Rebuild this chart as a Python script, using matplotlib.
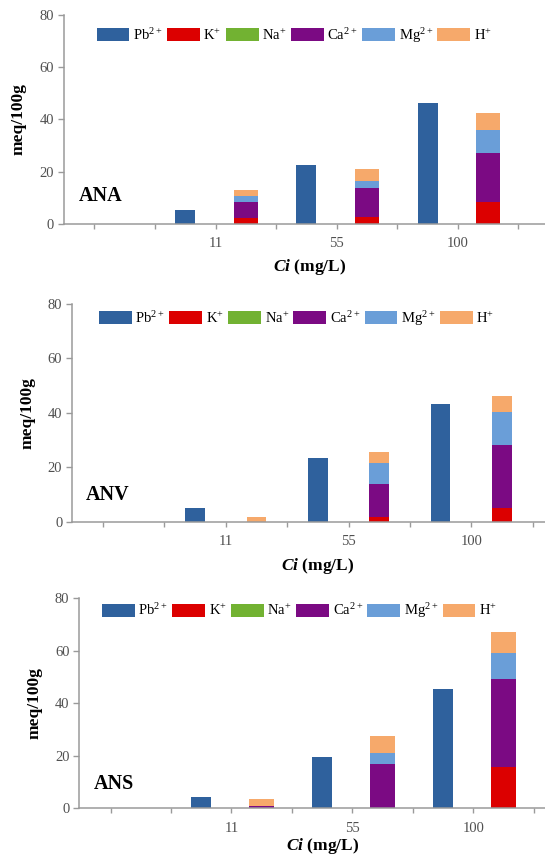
import matplotlib
matplotlib.use("Agg")
import matplotlib.pyplot as plt
import numpy as np

plt.rcParams['font.family'] = ['Liberation Serif', 'DejaVu Serif']
plt.rcParams['mathtext.fontset'] = 'custom'
plt.rcParams['mathtext.rm'] = 'Liberation Serif'
plt.rcParams['mathtext.it'] = 'Liberation Serif:italic:bold'
plt.rcParams['mathtext.bf'] = 'Liberation Serif:bold'

# data (meq/100g)
concentrations = ['11', '55', '100']
ion_labels = [r'Pb$^{2+}$', r'K$^{+}$', r'Na$^{+}$', r'Ca$^{2+}$', r'Mg$^{2+}$', r'H$^{+}$']
panel_names = ['ANA', 'ANV', 'ANS']

pb_ana = [5.2, 22.6, 46.2]
k_ana = [2.3, 2.7, 8.5]
na_ana = [0.0, 0.0, 0.0]
ca_ana = [6.1, 11.2, 18.5]
mg_ana = [2.2, 2.6, 9.0]
h_ana = [2.4, 4.5, 6.4]

pb_anv = [5.1, 23.3, 43.1]
k_anv = [0.0, 1.8, 4.9]
na_anv = [0.0, 0.0, 0.0]
ca_anv = [0.0, 11.9, 23.3]
mg_anv = [0.0, 8.0, 12.0]
h_anv = [1.8, 3.8, 6.0]

pb_ans = [4.3, 19.4, 45.5]
k_ans = [0.0, 0.0, 15.6]
na_ans = [0.0, 0.0, 0.0]
ca_ans = [0.8, 16.9, 33.8]
mg_ans = [0.0, 4.3, 9.6]
h_ans = [2.7, 6.5, 8.3]

panels = [
    (pb_ana, [k_ana, na_ana, ca_ana, mg_ana, h_ana]),
    (pb_anv, [k_anv, na_anv, ca_anv, mg_anv, h_anv]),
    (pb_ans, [k_ans, na_ans, ca_ans, mg_ans, h_ans]),
]

colors = ['#2F619D', '#DC0000', '#72B232', '#7B0A83', '#6A9ED8', '#F6A96B']
axis_gray = '#9A9A9A'
text_gray = '#505050'

# layout: axes rects, x limits, bar widths, label positions
rects = [[0.1167, 0.7383, 0.8833, 0.2442],
         [0.1321, 0.3905, 0.8679, 0.2543],
         [0.1453, 0.0557, 0.8547, 0.2453]]
xlims = [(-0.255, 3.72), (-0.252, 3.60), (-0.259, 3.594)]
pb_widths = [0.165, 0.16, 0.167]
stack_widths = [0.20, 0.16, 0.205]
name_pos = [(-0.126, 10.8), (-0.138, 9.8), (-0.138, 9.1)]
legend_pos = [(0.0686, 0.902), (0.057, 0.934), (0.0485, 0.94)]
xlabel_pos = [(0.51, -0.204), (0.52, -0.2035), (0.523, -0.18)]
ylabel_x = [-0.0926, -0.0934, -0.0953]

fig = plt.figure(figsize=(5.45, 8.56), dpi=100)
x = np.arange(1, len(concentrations) + 1)

for i, (pb, stack) in enumerate(panels):
    ax = fig.add_axes(rects[i])

    # Pb bars on the left of each group
    ax.bar(x - 0.25, pb, width=pb_widths[i], color=colors[0], label=ion_labels[0])

    # exchanged cations stacked on the right
    bottom = np.zeros(len(x))
    for vals, col, lab in zip(stack, colors[1:], ion_labels[1:]):
        ax.bar(x + 0.25, vals, width=stack_widths[i], bottom=bottom, color=col, label=lab)
        bottom += np.array(vals)

    ax.set_xlim(*xlims[i])
    ax.set_ylim(0, 80)
    ax.set_yticks([0, 20, 40, 60, 80])
    ticks = np.arange(0, 3.6, 0.5)
    ax.set_xticks(ticks)
    ax.set_xticklabels([concentrations[int(t) - 1] if t in (1, 2, 3) else '' for t in ticks])

    for s in ['top', 'right']:
        ax.spines[s].set_visible(False)
    for s in ['left', 'bottom']:
        ax.spines[s].set_color(axis_gray)
        ax.spines[s].set_linewidth(1.1)
    ax.tick_params(axis='y', direction='out', length=4, width=1, color=axis_gray,
                   labelsize=10.5, labelcolor=text_gray, pad=3)
    ax.tick_params(axis='x', direction='out', length=3.5, width=1, color=axis_gray,
                   labelsize=10.5, labelcolor=text_gray, pad=6)

    ax.set_ylabel('meq/100g', fontsize=12.5, fontweight='bold')
    ax.yaxis.set_label_coords(ylabel_x[i], 0.5)
    ax.yaxis.label.set_va('center')
    ax.set_xlabel(r'$\mathit{Ci}$ (mg/L)', fontsize=12.5, fontweight='bold')
    ax.xaxis.set_label_coords(*xlabel_pos[i])
    ax.xaxis.label.set_va('center')

    ax.text(name_pos[i][0], name_pos[i][1], panel_names[i], fontsize=14.5,
            fontweight='bold', ha='left', va='center')

    ax.legend(loc='center left', bbox_to_anchor=legend_pos[i], ncol=6, frameon=False,
              fontsize=10.5, handlelength=2.25, handleheight=1.0, handletextpad=0.25,
              columnspacing=0.3, borderpad=0, borderaxespad=0)

fig.savefig('out.png', dpi=100)
